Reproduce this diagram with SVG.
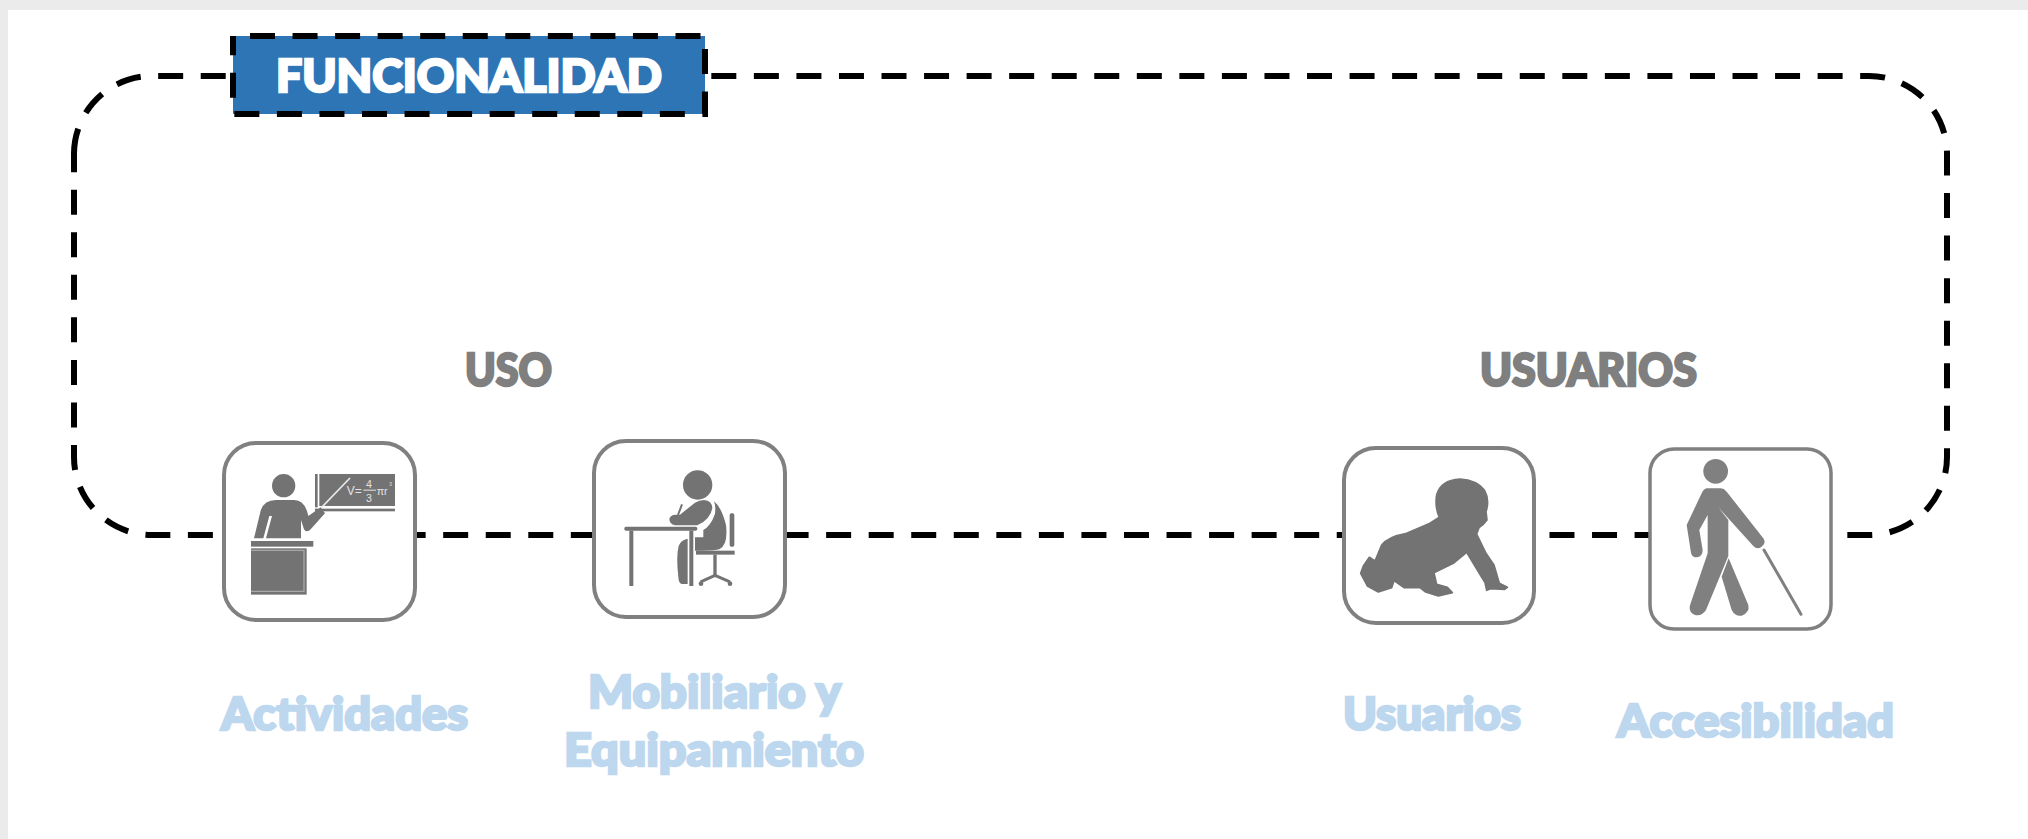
<svg xmlns="http://www.w3.org/2000/svg" width="2028" height="839" viewBox="0 0 2028 839">
<style>
.dash{fill:none;stroke:#000;stroke-width:6;stroke-dasharray:25 17.55}
.card{fill:#fff;stroke:#808080;stroke-width:4}
.lbl{font-family:Lato,"Liberation Sans",sans-serif;font-weight:900;font-size:45px;fill:#bdd7ee;stroke:#bdd7ee;stroke-width:2.5}
.head{font-family:Lato,"Liberation Sans",sans-serif;font-weight:900;font-size:46px;fill:#7f7f7f;stroke:#7f7f7f;stroke-width:2.5}
.ic{fill:#737373}
.ic4{fill:#808080}
.formula{font-family:"Liberation Sans",Arial,sans-serif;fill:#e4e4e4}
</style>
<rect width="2028" height="839" fill="#ebebeb"/>
<rect x="8" y="10" width="2020" height="829" fill="#fff"/>
<g id="connectors">
<path class="dash" d="M74 153.15A78 78 0 0 1 152 76H1869A78 78 0 0 1 1947 154V457A78 78 0 0 1 1869 535H152A78 78 0 0 1 74 457V154Z"/>
</g>
<g id="funcionalidad">
<rect x="233" y="36" width="472" height="78" fill="#2e75b6"/>
<path class="dash" stroke-dashoffset="25.55" d="M233 36H705V114H233Z"/>
<text x="276" y="92" textLength="386" lengthAdjust="spacingAndGlyphs" font-family="Lato,'Liberation Sans',sans-serif" font-weight="900" font-size="46" fill="#fff" stroke="#fff" stroke-width="2.5">FUNCIONALIDAD</text>
</g>
<g id="uso"><text class="head" x="465" y="386" textLength="87" lengthAdjust="spacingAndGlyphs">USO</text></g>
<g id="usuarios-title"><text class="head" x="1480" y="386" textLength="217" lengthAdjust="spacingAndGlyphs">USUARIOS</text></g>
<g id="actividades">
<rect class="card" x="224" y="443" width="191" height="177" rx="32"/>
<g transform="translate(200 420) scale(.3333)">
<circle class="ic" cx="251" cy="197" r="35"/>
<path class="ic" d="M162 355L182 272Q192 240 228 240H283Q315 240 325 288L362 262L375 280L330 330Q318 338 312 328L303 300V355H198L216 288H208L190 355Z"/>
<rect class="ic" x="345" y="162" width="8" height="100"/>
<rect class="ic" x="358" y="162" width="227" height="96"/>
<rect class="ic" x="345" y="266" width="240" height="8"/>
<path d="M450 174L365 262" stroke="#e8e8e8" stroke-width="5" fill="none"/>
<text class="formula" x="440" y="226" font-size="36">V=</text>
<text class="formula" x="498" y="204" font-size="32">4</text>
<rect x="490" y="209" width="38" height="3" fill="#e4e4e4"/>
<text class="formula" x="498" y="246" font-size="32">3</text>
<text class="formula" x="530" y="226" font-size="32">πr</text>
<text class="formula" x="568" y="198" font-size="14">3</text>
<rect class="ic" x="153" y="363" width="187" height="17"/>
<rect class="ic" x="153" y="385" width="167" height="139"/>
<path d="M153 391H312V514H153" fill="none" stroke="#a8a8a8" stroke-width="4"/>
</g>
</g>
<g id="mobiliario">
<rect class="card" x="594" y="441" width="191" height="176" rx="32"/>
<g transform="translate(580 420) scale(.3333)">
<circle class="ic" cx="353" cy="195" r="44"/>
<path class="ic" d="M402 244Q425 262 438 315Q445 375 418 388Q405 393 345 392V352H370V330Q392 318 405 282Q408 258 402 244Z"/>
<path class="ic" d="M372 240Q396 242 397 264Q392 298 352 316H285Q268 312 268 297Q270 286 284 284L300 284L345 248Q358 240 372 240Z"/>
<path d="M306 253L294 285" stroke="#737373" stroke-width="6" fill="none"/>
<rect class="ic" x="133" y="320" width="219" height="12" rx="5"/>
<rect class="ic" x="148" y="332" width="12" height="166"/>
<rect class="ic" x="328" y="332" width="12" height="166"/>
<path class="ic" d="M323 356V492H305Q296 490 295 470Q288 410 296 378Q302 360 323 356Z"/>
<rect class="ic" x="449" y="280" width="14" height="100" rx="5"/>
<rect class="ic" x="348" y="392" width="116" height="12"/>
<rect class="ic" x="400" y="404" width="10" height="62"/>
<path d="M405 466L362 486M405 466L450 486" stroke="#737373" stroke-width="9" fill="none"/>
<circle class="ic" cx="363" cy="491" r="7"/><circle class="ic" cx="450" cy="491" r="7"/>
</g>
</g>
<g id="usuarios">
<rect class="card" x="1344" y="448" width="190" height="175" rx="32"/>
<g transform="translate(1330 430) scale(.3333)">
<path class="ic" stroke="#737373" stroke-width="5" stroke-linejoin="round" d="M390 147Q440 150 463 180Q480 210 468 245L471 270L460 283L447 293L440 312L468 370L492 405L508 460L532 472L524 478L482 476L470 481L465 458L448 430L410 367L370 400L312 428L320 463L352 472L367 488L325 498L287 486L270 473L222 473L192 452L185 473L145 486L112 468L92 430L100 408L118 382L135 393L155 345Q175 320 230 310L300 280L328 262Q314 230 320 195Q332 150 390 147Z"/>
</g>
</g>
<g id="accesibilidad">
<rect x="1650" y="449" width="181" height="180" rx="24" fill="#fff" stroke="#808080" stroke-width="3.5"/>
<g transform="translate(1630 430) scale(.3333)">
<circle class="ic4" cx="257" cy="124" r="37"/>
<path class="ic4" d="M232 175H272Q282 175 290 185L400 325Q410 340 395 350Q382 360 370 348L265 232L295 270V378L228 540Q215 560 195 555Q172 545 182 520L233 370V255L208 300L218 360Q218 380 200 382Q186 382 183 368L170 285L215 190Q222 175 232 175Z"/>
<path class="ic4" d="M296 385L355 525Q360 548 335 557Q315 560 305 540L275 440Z"/>
<path d="M402 360L513 553" stroke="#808080" stroke-width="9" stroke-linecap="round" fill="none"/>
</g>
</g>
<g id="labels">
<text class="lbl" x="221" y="730" textLength="247" lengthAdjust="spacingAndGlyphs">Actividades</text>
<text class="lbl" x="588" y="708" textLength="253" lengthAdjust="spacingAndGlyphs">Mobiliario y</text>
<text class="lbl" x="564" y="766" textLength="300" lengthAdjust="spacingAndGlyphs">Equipamiento</text>
<text class="lbl" x="1343" y="730" textLength="178" lengthAdjust="spacingAndGlyphs">Usuarios</text>
<text class="lbl" x="1617" y="737" textLength="277" lengthAdjust="spacingAndGlyphs">Accesibilidad</text>
</g>
</svg>
